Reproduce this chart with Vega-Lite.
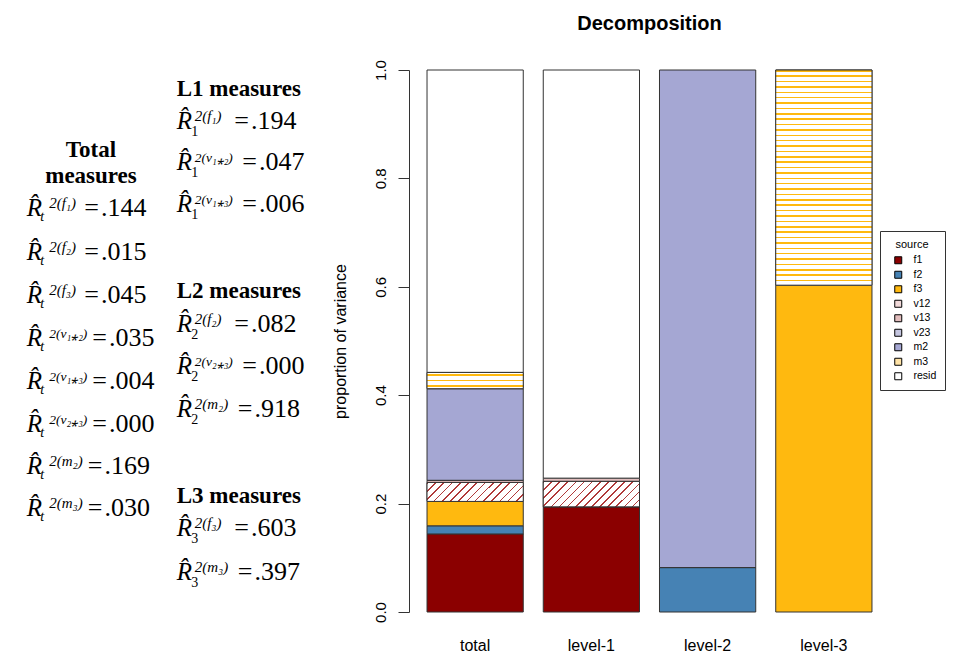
{
  "$schema": "https://vega.github.io/schema/vega-lite/v6.json",
  "width": 481,
  "height": 542,
  "autosize": {"type": "none"},
  "padding": {"left": 409, "top": 70, "right": 66, "bottom": 44},
  "background": "white",
  "title": {"text": "Decomposition", "font": "Liberation Sans", "fontSize": 20, "fontWeight": "bold", "anchor": "middle", "frame": "group", "baseline": "alphabetic", "offset": 10, "color": "#000"},
  "config": {"view": {"stroke": null}},
  "datasets": {
    "bars": [
      {"group": "total", "source": "f1", "k": 1, "value": 0.144},
      {"group": "total", "source": "f2", "k": 2, "value": 0.015},
      {"group": "total", "source": "f3", "k": 3, "value": 0.045},
      {"group": "total", "source": "v12", "k": 4, "value": 0.035},
      {"group": "total", "source": "v13", "k": 5, "value": 0.004},
      {"group": "total", "source": "v23", "k": 6, "value": 0.0},
      {"group": "total", "source": "m2", "k": 7, "value": 0.169},
      {"group": "total", "source": "m3", "k": 8, "value": 0.030},
      {"group": "total", "source": "resid", "k": 9, "value": 0.558},
      {"group": "level-1", "source": "f1", "k": 1, "value": 0.194},
      {"group": "level-1", "source": "v12", "k": 4, "value": 0.047},
      {"group": "level-1", "source": "v13", "k": 5, "value": 0.006},
      {"group": "level-1", "source": "resid", "k": 9, "value": 0.753},
      {"group": "level-2", "source": "f2", "k": 2, "value": 0.082},
      {"group": "level-2", "source": "v23", "k": 6, "value": 0.0},
      {"group": "level-2", "source": "m2", "k": 7, "value": 0.918},
      {"group": "level-3", "source": "f3", "k": 3, "value": 0.603},
      {"group": "level-3", "source": "m3", "k": 8, "value": 0.397}
    ],
    "formulas": [
      {"col": "Total", "pos": 26.94, "sub": "t", "sup": "2(f₁)", "val": "=\u200a.144", "kind": "f"},
      {"col": "Total", "pos": 35.06, "sub": "t", "sup": "2(f₂)", "val": "=\u200a.015", "kind": "f"},
      {"col": "Total", "pos": 42.99, "sub": "t", "sup": "2(f₃)", "val": "=\u200a.045", "kind": "f"},
      {"col": "Total", "pos": 50.92, "sub": "t", "sup": "2(v₁⁎₂)", "val": "=\u200a.035", "kind": "v"},
      {"col": "Total", "pos": 58.86, "sub": "t", "sup": "2(v₁⁎₃)", "val": "=\u200a.004", "kind": "v"},
      {"col": "Total", "pos": 66.70, "sub": "t", "sup": "2(v₂⁎₃)", "val": "=\u200a.000", "kind": "v"},
      {"col": "Total", "pos": 74.54, "sub": "t", "sup": "2(m₂)", "val": "=\u200a.169", "kind": "m"},
      {"col": "Total", "pos": 82.38, "sub": "t", "sup": "2(m₃)", "val": "=\u200a.030", "kind": "m"},
      {"col": "L", "pos": 10.89, "sub": "1", "sup": "2(f₁)", "val": "=\u200a.194", "kind": "f"},
      {"col": "L", "pos": 18.45, "sub": "1", "sup": "2(v₁⁎₂)", "val": "=\u200a.047", "kind": "v"},
      {"col": "L", "pos": 26.20, "sub": "1", "sup": "2(v₁⁎₃)", "val": "=\u200a.006", "kind": "v"},
      {"col": "L", "pos": 48.25, "sub": "2", "sup": "2(f₂)", "val": "=\u200a.082", "kind": "f"},
      {"col": "L", "pos": 56.09, "sub": "2", "sup": "2(v₂⁎₃)", "val": "=\u200a.000", "kind": "v"},
      {"col": "L", "pos": 63.93, "sub": "2", "sup": "2(m₂)", "val": "=\u200a.918", "kind": "m"},
      {"col": "L", "pos": 86.07, "sub": "3", "sup": "2(f₃)", "val": "=\u200a.603", "kind": "f"},
      {"col": "L", "pos": 94.10, "sub": "3", "sup": "2(m₃)", "val": "=\u200a.397", "kind": "m"}
    ],
    "headers": [
      {"col": "Total", "pos": 15.96, "label": "Total"},
      {"col": "Total", "pos": 20.94, "label": "measures"},
      {"col": "L", "pos": 4.80, "label": "L1 measures"},
      {"col": "L", "pos": 42.07, "label": "L2 measures"},
      {"col": "L", "pos": 79.89, "label": "L3 measures"}
    ]
  },
  "resolve": {"scale": {"x": "independent", "y": "independent"}},
  "layer": [
    {
      "data": {"name": "bars"},
      "transform": [{"stack": "value", "groupby": ["group"], "sort": [{"field": "k", "order": "ascending"}], "as": ["v0", "v1"]}],
      "encoding": {
        "x": {
          "field": "group", "type": "nominal",
          "scale": {"domain": ["total", "level-1", "level-2", "level-3"], "paddingInner": 0.172, "paddingOuter": 0.155},
          "axis": {"title": null, "ticks": false, "tickSize": 0, "domain": false, "labelAngle": 0, "labelFontSize": 16, "labelFont": "Liberation Sans", "labelColor": "#000", "labelBaseline": "alphabetic", "labelPadding": 38}
        },
        "y": {
          "field": "v0", "type": "quantitative",
          "scale": {"domain": [0, 1], "nice": false, "zero": true},
          "axis": {"values": [0, 0.2, 0.4, 0.6, 0.8, 1], "format": ".1f", "grid": false, "tickSize": 11, "tickColor": "#333", "domainColor": "#333", "labelAngle": -90, "labelAlign": "center", "labelBaseline": "alphabetic", "labelPadding": 13, "labelFontSize": 15, "labelFont": "Liberation Sans", "labelColor": "#000", "labelFlush": false, "labelOverlap": false, "title": "proportion of variance", "titleFont": "Liberation Sans", "titleFontSize": 16, "titleFontWeight": "normal", "titleColor": "#000", "titlePadding": 25}
        },
        "y2": {"field": "v1"}
      },
      "layer": [
        {
          "mark": {"type": "bar", "stroke": "#333333", "strokeWidth": 1},
          "encoding": {
            "color": {
              "field": "source", "type": "nominal",
              "scale": {"domain": ["f1", "f2", "f3", "v12", "v13", "v23", "m2", "m3", "resid"], "range": ["#8B0000", "#4682B4", "#FFB90F", "#F1D9D9", "#E2BDBD", "#C4C5DF", "#A5A7D3", "#FFE3A6", "#FFFFFF"]},
              "legend": {"orient": "none", "legendX": 471, "legendY": 161, "title": "source", "titleFont": "Liberation Sans", "titleFontSize": 11, "titleFontWeight": "normal", "titleColor": "#000", "titleAnchor": "middle", "titlePadding": 5, "labelFont": "Liberation Sans", "labelFontSize": 10.5, "labelColor": "#000", "labelOffset": 10, "symbolType": "square", "symbolSize": 49, "symbolOffset": 5, "symbolStrokeColor": "#000", "symbolStrokeWidth": 1, "rowPadding": 2.5, "padding": 8, "strokeColor": "#333", "fillColor": "#FFFFFF"}
            }
          }
        },
        {
          "transform": [{"filter": "datum.source === 'm3' && datum.group === 'level-3'"}],
          "mark": {"type": "bar", "stroke": "#333333", "strokeWidth": 1, "fill": {"gradient": "linear", "x1": 0, "y1": 0, "x2": 0, "y2": 1, "stops": [
            {"offset": 0, "color": "#FFB90F"}, {"offset": 0.007, "color": "#FFB90F"}, {"offset": 0.007, "color": "#FFFFFF"}, {"offset": 0.025, "color": "#FFFFFF"},
            {"offset": 0.025, "color": "#FFB90F"}, {"offset": 0.032, "color": "#FFB90F"}, {"offset": 0.032, "color": "#FFFFFF"}, {"offset": 0.05, "color": "#FFFFFF"},
            {"offset": 0.05, "color": "#FFB90F"}, {"offset": 0.057, "color": "#FFB90F"}, {"offset": 0.057, "color": "#FFFFFF"}, {"offset": 0.075, "color": "#FFFFFF"},
            {"offset": 0.075, "color": "#FFB90F"}, {"offset": 0.082, "color": "#FFB90F"}, {"offset": 0.082, "color": "#FFFFFF"}, {"offset": 0.1, "color": "#FFFFFF"},
            {"offset": 0.1, "color": "#FFB90F"}, {"offset": 0.107, "color": "#FFB90F"}, {"offset": 0.107, "color": "#FFFFFF"}, {"offset": 0.125, "color": "#FFFFFF"},
            {"offset": 0.125, "color": "#FFB90F"}, {"offset": 0.132, "color": "#FFB90F"}, {"offset": 0.132, "color": "#FFFFFF"}, {"offset": 0.15, "color": "#FFFFFF"},
            {"offset": 0.15, "color": "#FFB90F"}, {"offset": 0.157, "color": "#FFB90F"}, {"offset": 0.157, "color": "#FFFFFF"}, {"offset": 0.175, "color": "#FFFFFF"},
            {"offset": 0.175, "color": "#FFB90F"}, {"offset": 0.182, "color": "#FFB90F"}, {"offset": 0.182, "color": "#FFFFFF"}, {"offset": 0.2, "color": "#FFFFFF"},
            {"offset": 0.2, "color": "#FFB90F"}, {"offset": 0.207, "color": "#FFB90F"}, {"offset": 0.207, "color": "#FFFFFF"}, {"offset": 0.225, "color": "#FFFFFF"},
            {"offset": 0.225, "color": "#FFB90F"}, {"offset": 0.232, "color": "#FFB90F"}, {"offset": 0.232, "color": "#FFFFFF"}, {"offset": 0.25, "color": "#FFFFFF"},
            {"offset": 0.25, "color": "#FFB90F"}, {"offset": 0.257, "color": "#FFB90F"}, {"offset": 0.257, "color": "#FFFFFF"}, {"offset": 0.275, "color": "#FFFFFF"},
            {"offset": 0.275, "color": "#FFB90F"}, {"offset": 0.282, "color": "#FFB90F"}, {"offset": 0.282, "color": "#FFFFFF"}, {"offset": 0.3, "color": "#FFFFFF"},
            {"offset": 0.3, "color": "#FFB90F"}, {"offset": 0.307, "color": "#FFB90F"}, {"offset": 0.307, "color": "#FFFFFF"}, {"offset": 0.325, "color": "#FFFFFF"},
            {"offset": 0.325, "color": "#FFB90F"}, {"offset": 0.332, "color": "#FFB90F"}, {"offset": 0.332, "color": "#FFFFFF"}, {"offset": 0.35, "color": "#FFFFFF"},
            {"offset": 0.35, "color": "#FFB90F"}, {"offset": 0.357, "color": "#FFB90F"}, {"offset": 0.357, "color": "#FFFFFF"}, {"offset": 0.375, "color": "#FFFFFF"},
            {"offset": 0.375, "color": "#FFB90F"}, {"offset": 0.382, "color": "#FFB90F"}, {"offset": 0.382, "color": "#FFFFFF"}, {"offset": 0.4, "color": "#FFFFFF"},
            {"offset": 0.4, "color": "#FFB90F"}, {"offset": 0.407, "color": "#FFB90F"}, {"offset": 0.407, "color": "#FFFFFF"}, {"offset": 0.425, "color": "#FFFFFF"},
            {"offset": 0.425, "color": "#FFB90F"}, {"offset": 0.432, "color": "#FFB90F"}, {"offset": 0.432, "color": "#FFFFFF"}, {"offset": 0.45, "color": "#FFFFFF"},
            {"offset": 0.45, "color": "#FFB90F"}, {"offset": 0.457, "color": "#FFB90F"}, {"offset": 0.457, "color": "#FFFFFF"}, {"offset": 0.475, "color": "#FFFFFF"},
            {"offset": 0.475, "color": "#FFB90F"}, {"offset": 0.482, "color": "#FFB90F"}, {"offset": 0.482, "color": "#FFFFFF"}, {"offset": 0.5, "color": "#FFFFFF"},
            {"offset": 0.5, "color": "#FFB90F"}, {"offset": 0.507, "color": "#FFB90F"}, {"offset": 0.507, "color": "#FFFFFF"}, {"offset": 0.525, "color": "#FFFFFF"},
            {"offset": 0.525, "color": "#FFB90F"}, {"offset": 0.532, "color": "#FFB90F"}, {"offset": 0.532, "color": "#FFFFFF"}, {"offset": 0.55, "color": "#FFFFFF"},
            {"offset": 0.55, "color": "#FFB90F"}, {"offset": 0.557, "color": "#FFB90F"}, {"offset": 0.557, "color": "#FFFFFF"}, {"offset": 0.575, "color": "#FFFFFF"},
            {"offset": 0.575, "color": "#FFB90F"}, {"offset": 0.582, "color": "#FFB90F"}, {"offset": 0.582, "color": "#FFFFFF"}, {"offset": 0.6, "color": "#FFFFFF"},
            {"offset": 0.6, "color": "#FFB90F"}, {"offset": 0.607, "color": "#FFB90F"}, {"offset": 0.607, "color": "#FFFFFF"}, {"offset": 0.625, "color": "#FFFFFF"},
            {"offset": 0.625, "color": "#FFB90F"}, {"offset": 0.632, "color": "#FFB90F"}, {"offset": 0.632, "color": "#FFFFFF"}, {"offset": 0.65, "color": "#FFFFFF"},
            {"offset": 0.65, "color": "#FFB90F"}, {"offset": 0.657, "color": "#FFB90F"}, {"offset": 0.657, "color": "#FFFFFF"}, {"offset": 0.675, "color": "#FFFFFF"},
            {"offset": 0.675, "color": "#FFB90F"}, {"offset": 0.682, "color": "#FFB90F"}, {"offset": 0.682, "color": "#FFFFFF"}, {"offset": 0.7, "color": "#FFFFFF"},
            {"offset": 0.7, "color": "#FFB90F"}, {"offset": 0.707, "color": "#FFB90F"}, {"offset": 0.707, "color": "#FFFFFF"}, {"offset": 0.725, "color": "#FFFFFF"},
            {"offset": 0.725, "color": "#FFB90F"}, {"offset": 0.732, "color": "#FFB90F"}, {"offset": 0.732, "color": "#FFFFFF"}, {"offset": 0.75, "color": "#FFFFFF"},
            {"offset": 0.75, "color": "#FFB90F"}, {"offset": 0.757, "color": "#FFB90F"}, {"offset": 0.757, "color": "#FFFFFF"}, {"offset": 0.775, "color": "#FFFFFF"},
            {"offset": 0.775, "color": "#FFB90F"}, {"offset": 0.782, "color": "#FFB90F"}, {"offset": 0.782, "color": "#FFFFFF"}, {"offset": 0.8, "color": "#FFFFFF"},
            {"offset": 0.8, "color": "#FFB90F"}, {"offset": 0.807, "color": "#FFB90F"}, {"offset": 0.807, "color": "#FFFFFF"}, {"offset": 0.825, "color": "#FFFFFF"},
            {"offset": 0.825, "color": "#FFB90F"}, {"offset": 0.832, "color": "#FFB90F"}, {"offset": 0.832, "color": "#FFFFFF"}, {"offset": 0.85, "color": "#FFFFFF"},
            {"offset": 0.85, "color": "#FFB90F"}, {"offset": 0.857, "color": "#FFB90F"}, {"offset": 0.857, "color": "#FFFFFF"}, {"offset": 0.875, "color": "#FFFFFF"},
            {"offset": 0.875, "color": "#FFB90F"}, {"offset": 0.882, "color": "#FFB90F"}, {"offset": 0.882, "color": "#FFFFFF"}, {"offset": 0.9, "color": "#FFFFFF"},
            {"offset": 0.9, "color": "#FFB90F"}, {"offset": 0.907, "color": "#FFB90F"}, {"offset": 0.907, "color": "#FFFFFF"}, {"offset": 0.925, "color": "#FFFFFF"},
            {"offset": 0.925, "color": "#FFB90F"}, {"offset": 0.932, "color": "#FFB90F"}, {"offset": 0.932, "color": "#FFFFFF"}, {"offset": 0.95, "color": "#FFFFFF"},
            {"offset": 0.95, "color": "#FFB90F"}, {"offset": 0.957, "color": "#FFB90F"}, {"offset": 0.957, "color": "#FFFFFF"}, {"offset": 0.975, "color": "#FFFFFF"},
            {"offset": 0.975, "color": "#FFB90F"}, {"offset": 0.982, "color": "#FFB90F"}, {"offset": 0.982, "color": "#FFFFFF"}, {"offset": 1, "color": "#FFFFFF"}
          ]}}
        },
        {
          "transform": [{"filter": "datum.source === 'm3' && datum.group === 'total'"}],
          "mark": {"type": "bar", "stroke": "#333333", "strokeWidth": 1, "fill": {"gradient": "linear", "x1": 0, "y1": 0, "x2": 0, "y2": 1, "stops": [
            {"offset": 0, "color": "#FFFFFF"}, {"offset": 0.12, "color": "#FFFFFF"}, {"offset": 0.12, "color": "#FFB90F"}, {"offset": 0.213, "color": "#FFB90F"},
            {"offset": 0.213, "color": "#FFFFFF"}, {"offset": 0.453, "color": "#FFFFFF"}, {"offset": 0.453, "color": "#FFB90F"}, {"offset": 0.546, "color": "#FFB90F"},
            {"offset": 0.546, "color": "#FFFFFF"}, {"offset": 0.787, "color": "#FFFFFF"}, {"offset": 0.787, "color": "#FFB90F"}, {"offset": 0.88, "color": "#FFB90F"},
            {"offset": 0.88, "color": "#FFFFFF"}, {"offset": 1, "color": "#FFFFFF"}
          ]}}
        },
        {
          "transform": [{"filter": "datum.source === 'v12' && datum.group === 'total'"}],
          "mark": {"type": "bar", "stroke": "#333333", "strokeWidth": 1, "fill": {"gradient": "linear", "x1": 0, "y1": 0, "x2": 1.153, "y2": 0.228, "stops": [
            {"offset": 0, "color": "#B03A3A"}, {"offset": 0.0143, "color": "#B03A3A"}, {"offset": 0.0143, "color": "#FFFFFF"}, {"offset": 0.0714, "color": "#FFFFFF"},
            {"offset": 0.0714, "color": "#B03A3A"}, {"offset": 0.0857, "color": "#B03A3A"}, {"offset": 0.0857, "color": "#FFFFFF"}, {"offset": 0.1429, "color": "#FFFFFF"},
            {"offset": 0.1429, "color": "#B03A3A"}, {"offset": 0.1572, "color": "#B03A3A"}, {"offset": 0.1572, "color": "#FFFFFF"}, {"offset": 0.2143, "color": "#FFFFFF"},
            {"offset": 0.2143, "color": "#B03A3A"}, {"offset": 0.2286, "color": "#B03A3A"}, {"offset": 0.2286, "color": "#FFFFFF"}, {"offset": 0.2857, "color": "#FFFFFF"},
            {"offset": 0.2857, "color": "#B03A3A"}, {"offset": 0.3, "color": "#B03A3A"}, {"offset": 0.3, "color": "#FFFFFF"}, {"offset": 0.3571, "color": "#FFFFFF"},
            {"offset": 0.3571, "color": "#B03A3A"}, {"offset": 0.3714, "color": "#B03A3A"}, {"offset": 0.3714, "color": "#FFFFFF"}, {"offset": 0.4286, "color": "#FFFFFF"},
            {"offset": 0.4286, "color": "#B03A3A"}, {"offset": 0.4429, "color": "#B03A3A"}, {"offset": 0.4429, "color": "#FFFFFF"}, {"offset": 0.5, "color": "#FFFFFF"},
            {"offset": 0.5, "color": "#B03A3A"}, {"offset": 0.5143, "color": "#B03A3A"}, {"offset": 0.5143, "color": "#FFFFFF"}, {"offset": 0.5714, "color": "#FFFFFF"},
            {"offset": 0.5714, "color": "#B03A3A"}, {"offset": 0.5857, "color": "#B03A3A"}, {"offset": 0.5857, "color": "#FFFFFF"}, {"offset": 0.6429, "color": "#FFFFFF"},
            {"offset": 0.6429, "color": "#B03A3A"}, {"offset": 0.6572, "color": "#B03A3A"}, {"offset": 0.6572, "color": "#FFFFFF"}, {"offset": 0.7143, "color": "#FFFFFF"},
            {"offset": 0.7143, "color": "#B03A3A"}, {"offset": 0.7286, "color": "#B03A3A"}, {"offset": 0.7286, "color": "#FFFFFF"}, {"offset": 0.7857, "color": "#FFFFFF"},
            {"offset": 0.7857, "color": "#B03A3A"}, {"offset": 0.8, "color": "#B03A3A"}, {"offset": 0.8, "color": "#FFFFFF"}, {"offset": 0.8571, "color": "#FFFFFF"},
            {"offset": 0.8571, "color": "#B03A3A"}, {"offset": 0.8714, "color": "#B03A3A"}, {"offset": 0.8714, "color": "#FFFFFF"}, {"offset": 0.9286, "color": "#FFFFFF"},
            {"offset": 0.9286, "color": "#B03A3A"}, {"offset": 0.9429, "color": "#B03A3A"}, {"offset": 0.9429, "color": "#FFFFFF"}, {"offset": 1, "color": "#FFFFFF"}
          ]}}
        },
        {
          "transform": [{"filter": "datum.source === 'v12' && datum.group === 'level-1'"}],
          "mark": {"type": "bar", "stroke": "#333333", "strokeWidth": 1, "fill": {"gradient": "linear", "x1": 0, "y1": 0, "x2": 1.182, "y2": 0.314, "stops": [
            {"offset": 0, "color": "#B03A3A"}, {"offset": 0.0133, "color": "#B03A3A"}, {"offset": 0.0133, "color": "#FFFFFF"}, {"offset": 0.0667, "color": "#FFFFFF"},
            {"offset": 0.0667, "color": "#B03A3A"}, {"offset": 0.08, "color": "#B03A3A"}, {"offset": 0.08, "color": "#FFFFFF"}, {"offset": 0.1333, "color": "#FFFFFF"},
            {"offset": 0.1333, "color": "#B03A3A"}, {"offset": 0.1467, "color": "#B03A3A"}, {"offset": 0.1467, "color": "#FFFFFF"}, {"offset": 0.2, "color": "#FFFFFF"},
            {"offset": 0.2, "color": "#B03A3A"}, {"offset": 0.2133, "color": "#B03A3A"}, {"offset": 0.2133, "color": "#FFFFFF"}, {"offset": 0.2667, "color": "#FFFFFF"},
            {"offset": 0.2667, "color": "#B03A3A"}, {"offset": 0.28, "color": "#B03A3A"}, {"offset": 0.28, "color": "#FFFFFF"}, {"offset": 0.3333, "color": "#FFFFFF"},
            {"offset": 0.3333, "color": "#B03A3A"}, {"offset": 0.3467, "color": "#B03A3A"}, {"offset": 0.3467, "color": "#FFFFFF"}, {"offset": 0.4, "color": "#FFFFFF"},
            {"offset": 0.4, "color": "#B03A3A"}, {"offset": 0.4133, "color": "#B03A3A"}, {"offset": 0.4133, "color": "#FFFFFF"}, {"offset": 0.4667, "color": "#FFFFFF"},
            {"offset": 0.4667, "color": "#B03A3A"}, {"offset": 0.48, "color": "#B03A3A"}, {"offset": 0.48, "color": "#FFFFFF"}, {"offset": 0.5333, "color": "#FFFFFF"},
            {"offset": 0.5333, "color": "#B03A3A"}, {"offset": 0.5467, "color": "#B03A3A"}, {"offset": 0.5467, "color": "#FFFFFF"}, {"offset": 0.6, "color": "#FFFFFF"},
            {"offset": 0.6, "color": "#B03A3A"}, {"offset": 0.6133, "color": "#B03A3A"}, {"offset": 0.6133, "color": "#FFFFFF"}, {"offset": 0.6667, "color": "#FFFFFF"},
            {"offset": 0.6667, "color": "#B03A3A"}, {"offset": 0.68, "color": "#B03A3A"}, {"offset": 0.68, "color": "#FFFFFF"}, {"offset": 0.7333, "color": "#FFFFFF"},
            {"offset": 0.7333, "color": "#B03A3A"}, {"offset": 0.7467, "color": "#B03A3A"}, {"offset": 0.7467, "color": "#FFFFFF"}, {"offset": 0.8, "color": "#FFFFFF"},
            {"offset": 0.8, "color": "#B03A3A"}, {"offset": 0.8133, "color": "#B03A3A"}, {"offset": 0.8133, "color": "#FFFFFF"}, {"offset": 0.8667, "color": "#FFFFFF"},
            {"offset": 0.8667, "color": "#B03A3A"}, {"offset": 0.88, "color": "#B03A3A"}, {"offset": 0.88, "color": "#FFFFFF"}, {"offset": 0.9333, "color": "#FFFFFF"},
            {"offset": 0.9333, "color": "#B03A3A"}, {"offset": 0.9467, "color": "#B03A3A"}, {"offset": 0.9467, "color": "#FFFFFF"}, {"offset": 1, "color": "#FFFFFF"}
          ]}}
        }
      ]
    },
    {
      "encoding": {
        "x": {"field": "col", "type": "nominal", "scale": {"type": "point", "domain": ["Total", "L"], "range": [-382.3, -232.3], "padding": 0}, "axis": null},
        "y": {"field": "pos", "type": "quantitative", "scale": {"domain": [0, 100], "reverse": true, "nice": false, "zero": false}, "axis": null}
      },
      "layer": [
        {
          "data": {"name": "formulas"},
          "mark": {"type": "text", "text": "R̂", "font": "Liberation Serif", "fontSize": 25, "fontStyle": "italic", "align": "left", "baseline": "alphabetic", "color": "#000"}
        },
        {
          "data": {"name": "formulas"},
          "transform": [{"filter": "datum.col === 'Total'"}],
          "mark": {"type": "text", "font": "Liberation Serif", "fontSize": 14, "fontStyle": "italic", "align": "left", "baseline": "alphabetic", "dx": 13.5, "dy": 5, "color": "#000"},
          "encoding": {"text": {"field": "sub"}}
        },
        {
          "data": {"name": "formulas"},
          "transform": [{"filter": "datum.col === 'L'"}],
          "mark": {"type": "text", "font": "Liberation Serif", "fontSize": 14, "align": "left", "baseline": "alphabetic", "dx": 14.5, "dy": 7, "color": "#000"},
          "encoding": {"text": {"field": "sub"}}
        },
        {
          "data": {"name": "formulas"},
          "transform": [{"filter": "datum.col === 'Total' && datum.kind !== 'v'"}],
          "mark": {"type": "text", "font": "Liberation Serif", "fontSize": 15, "fontStyle": "italic", "align": "left", "baseline": "alphabetic", "dx": 22.5, "dy": -8, "color": "#000"},
          "encoding": {"text": {"field": "sup"}}
        },
        {
          "data": {"name": "formulas"},
          "transform": [{"filter": "datum.col === 'Total' && datum.kind === 'v'"}],
          "mark": {"type": "text", "font": "Liberation Serif", "fontSize": 13.5, "fontStyle": "italic", "align": "left", "baseline": "alphabetic", "dx": 22.5, "dy": -8, "color": "#000"},
          "encoding": {"text": {"field": "sup"}}
        },
        {
          "data": {"name": "formulas"},
          "transform": [{"filter": "datum.col === 'L' && datum.kind !== 'v'"}],
          "mark": {"type": "text", "font": "Liberation Serif", "fontSize": 15, "fontStyle": "italic", "align": "left", "baseline": "alphabetic", "dx": 18, "dy": -8, "color": "#000"},
          "encoding": {"text": {"field": "sup"}}
        },
        {
          "data": {"name": "formulas"},
          "transform": [{"filter": "datum.col === 'L' && datum.kind === 'v'"}],
          "mark": {"type": "text", "font": "Liberation Serif", "fontSize": 13.5, "fontStyle": "italic", "align": "left", "baseline": "alphabetic", "dx": 18, "dy": -8, "color": "#000"},
          "encoding": {"text": {"field": "sup"}}
        },
        {
          "data": {"name": "formulas"},
          "transform": [{"filter": "datum.kind === 'f'"}],
          "mark": {"type": "text", "font": "Liberation Serif", "fontSize": 26, "align": "left", "baseline": "alphabetic", "dx": 57.5, "color": "#000"},
          "encoding": {"text": {"field": "val"}}
        },
        {
          "data": {"name": "formulas"},
          "transform": [{"filter": "datum.kind === 'v'"}],
          "mark": {"type": "text", "font": "Liberation Serif", "fontSize": 26, "align": "left", "baseline": "alphabetic", "dx": 65.5, "color": "#000"},
          "encoding": {"text": {"field": "val"}}
        },
        {
          "data": {"name": "formulas"},
          "transform": [{"filter": "datum.kind === 'm'"}],
          "mark": {"type": "text", "font": "Liberation Serif", "fontSize": 26, "align": "left", "baseline": "alphabetic", "dx": 61, "color": "#000"},
          "encoding": {"text": {"field": "val"}}
        },
        {
          "data": {"name": "headers"},
          "transform": [{"filter": "datum.col === 'Total'"}],
          "mark": {"type": "text", "font": "Liberation Serif", "fontSize": 23, "fontWeight": "bold", "align": "center", "baseline": "alphabetic", "dx": 64.3, "color": "#000"},
          "encoding": {"text": {"field": "label"}}
        },
        {
          "data": {"name": "headers"},
          "transform": [{"filter": "datum.col === 'L'"}],
          "mark": {"type": "text", "font": "Liberation Serif", "fontSize": 23, "fontWeight": "bold", "align": "left", "baseline": "alphabetic", "color": "#000"},
          "encoding": {"text": {"field": "label"}}
        }
      ]
    }
  ]
}
